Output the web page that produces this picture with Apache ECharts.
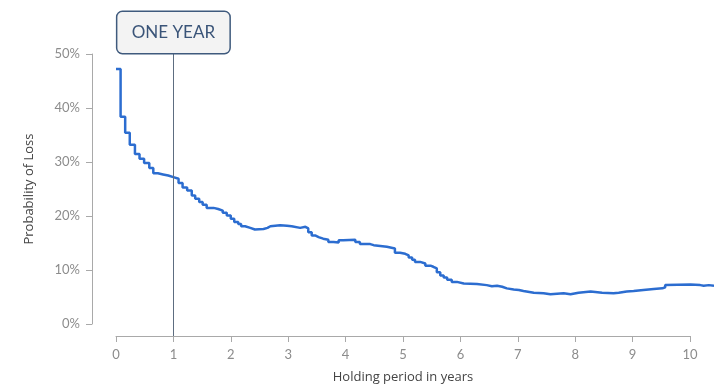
<!DOCTYPE html>
<html>
<head>
<meta charset="utf-8">
<script src="https://cdn.jsdelivr.net/npm/echarts@6/dist/echarts.min.js"></script>
<style>
  html, body { margin: 0; padding: 0; background: #fff; }
  #chart { width: 714px; height: 384px; }
</style>
</head>
<body>
<div id="chart"></div>
<script>
// holding period (years) where each new level starts
const years = [
  0, 0.08, 0.16, 0.24, 0.33, 0.41, 0.49, 0.58, 0.65, 0.73, 0.82, 0.91,
  1.0, 1.09, 1.16, 1.24, 1.32, 1.38, 1.45, 1.51, 1.58, 1.70, 1.78, 1.86, 1.93,
  2.0, 2.06, 2.13, 2.18, 2.25, 2.34, 2.42, 2.57, 2.64, 2.69, 2.86, 2.98,
  3.06, 3.21, 3.30, 3.35, 3.41, 3.47, 3.53, 3.61, 3.70, 3.79, 3.88, 3.96,
  4.17, 4.25, 4.34, 4.43, 4.49, 4.72, 4.86, 4.95,
  5.04, 5.10, 5.16, 5.21, 5.30, 5.39, 5.48, 5.53, 5.59, 5.65, 5.71, 5.77, 5.85, 5.94,
  6.06, 6.29, 6.46, 6.55, 6.64, 6.73, 6.81, 6.93,
  7.02, 7.10, 7.28, 7.45, 7.57, 7.80, 7.92,
  8.06, 8.27, 8.47, 8.67, 8.76, 8.90,
  9.02, 9.19, 9.37, 9.52, 9.57, 9.60,
  10.01, 10.18, 10.24, 10.33, 10.42
]
// probability of loss (%)
const lossPct = [
  47.2, 38.4, 35.4, 33.2, 31.5, 30.6, 29.8, 28.9, 27.9, 27.7, 27.5, 27.2,
  26.9, 26.1, 25.3, 24.7, 23.8, 23.2, 22.6, 22.1, 21.5, 21.3, 21.0, 20.6, 20.1,
  19.5, 18.9, 18.5, 18.1, 17.8, 17.5, 17.6, 17.8, 18.1, 18.3, 18.2, 18.1,
  17.8, 18.0, 17.7, 17.0, 16.4, 16.1, 15.8, 15.6, 15.2, 15.1, 15.5, 15.6,
  15.2, 14.8, 14.8, 14.6, 14.3, 14.0, 13.2, 13.0,
  12.7, 12.3, 11.9, 11.5, 11.2, 10.8, 10.6, 10.3, 9.6, 9.0, 8.6, 8.2, 7.8, 7.5,
  7.4, 7.2, 7.0, 7.1, 6.9, 6.6, 6.4, 6.3,
  6.1, 5.8, 5.7, 5.5, 5.7, 5.5, 5.8,
  6.0, 5.8, 5.7, 5.8, 6.0, 6.1,
  6.3, 6.5, 6.6, 6.8, 7.2, 7.3,
  7.2, 7.1, 7.2, 7.1, 7.0
]
const xTicks = [0, 10, 1]   // min, max, interval of the drawn axis
const xDataMax = 10.42      // data runs past the last tick to the edge
const yTicks = [0, 50, 10]
const markYear = 1
const markLabel = 'ONE YEAR'

const seriesData = years.map((x, i) => [x, lossPct[i]])

const chart = echarts.init(document.getElementById('chart'))
const axisColor = '#a9a9a9'
const tickLabel = { color: '#8c8c8c', fontSize: 13, fontFamily: 'Lato' }

const option = {
  animation: false,
  backgroundColor: '#fff',
  grid: [
    // data area, runs to the right edge
    { left: 116, right: 0, top: 54, bottom: 60, outerBoundsMode: 'none', containLabel: false },
    // drawn x axis and the one-year marker
    { left: 116, right: 24, top: 53, bottom: 48, outerBoundsMode: 'none', containLabel: false }
  ],
  xAxis: [
    {
      type: 'value',
      gridIndex: 0,
      min: xTicks[0],
      max: xDataMax,
      show: false
    },
    {
      type: 'value',
      gridIndex: 1,
      min: xTicks[0],
      max: xTicks[1],
      interval: xTicks[2],
      name: 'Holding period in years',
      nameLocation: 'middle',
      nameGap: 35,
      nameTextStyle: { color: '#444', fontSize: 13, fontFamily: 'Open Sans' },
      axisLine: { show: true, onZero: false, lineStyle: { color: axisColor, width: 1 } },
      axisTick: { show: true, length: 6, lineStyle: { color: axisColor } },
      axisLabel: Object.assign({ margin: 12 }, tickLabel),
      splitLine: { show: false }
    }
  ],
  yAxis: [
    {
      type: 'value',
      gridIndex: 0,
      min: yTicks[0],
      max: yTicks[1],
      interval: yTicks[2],
      offset: 24,
      name: 'Probability of Loss',
      nameLocation: 'middle',
      nameGap: 56,
      nameRotate: 90,
      nameTextStyle: { color: '#444', fontSize: 13, fontFamily: 'Open Sans' },
      axisLine: { show: true, onZero: false, lineStyle: { color: axisColor, width: 1 } },
      axisTick: { show: true, length: 6, lineStyle: { color: axisColor } },
      axisLabel: Object.assign({ margin: 12, formatter: '{value}%' }, tickLabel),
      splitLine: { show: false }
    },
    {
      type: 'value',
      gridIndex: 1,
      min: 0,
      max: 1,
      show: false
    }
  ],
  series: [
    {
      type: 'line',
      xAxisIndex: 0,
      yAxisIndex: 0,
      data: seriesData,
      step: 'end',
      showSymbol: false,
      lineStyle: { color: '#2c6dd0', width: 2.5 }
    },
    {
      // carries only the marker
      type: 'line',
      xAxisIndex: 1,
      yAxisIndex: 1,
      data: [],
      markLine: {
        silent: true,
        symbol: 'none',
        lineStyle: { color: '#5d6d80', width: 1, type: 'solid' },
        label: {
          show: true,
          position: 'start',
          distance: 0,
          formatter: markLabel,
          color: '#3a5478',
          fontSize: 17,
          fontFamily: 'Lato',
          backgroundColor: '#f3f3f3',
          borderColor: '#3f5a7d',
          borderWidth: 1.5,
          borderRadius: 5,
          width: 112,
          height: 17,
          lineHeight: 17,
          align: 'center',
          padding: [12, 0]
        },
        data: [[{ coord: [markYear, 1] }, { coord: [markYear, 0] }]]
      }
    }
  ]
}
chart.setOption(option)
</script>
</body>
</html>
